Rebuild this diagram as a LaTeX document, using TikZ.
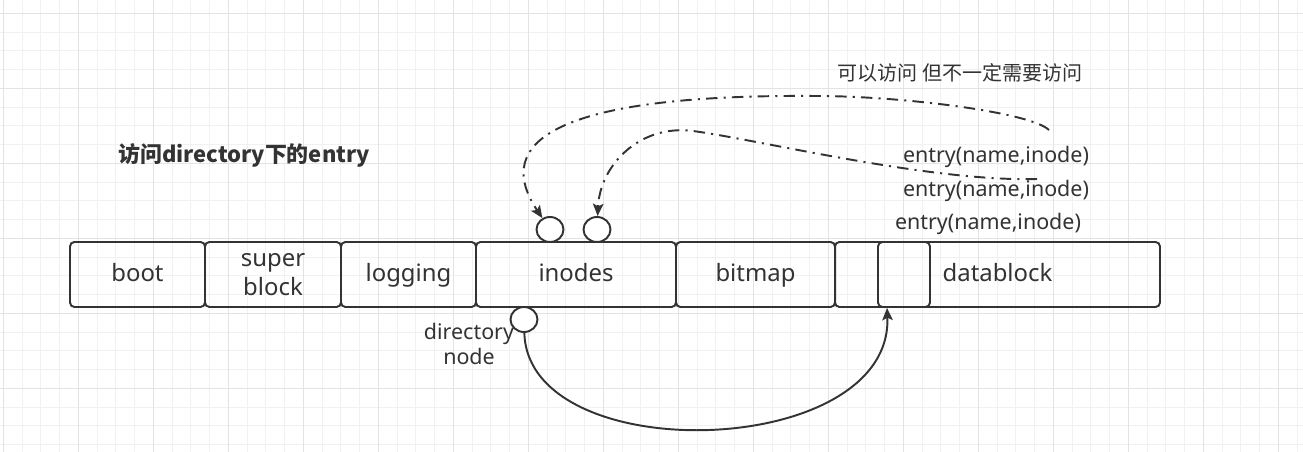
\documentclass[tikz,border=0pt]{standalone}
\usepackage{fontspec}
\setmainfont{Noto Sans}
\newfontfamily\cjk{Noto Sans CJK SC}
\usetikzlibrary{shapes.geometric,arrows.meta}
\definecolor{ink}{HTML}{333333}
\definecolor{gridminor}{HTML}{F1F1F1}
\definecolor{gridmajor}{HTML}{E3E3E3}
\tikzset{
  blk/.style={draw=ink, line width=1.1pt, rounded corners=2.5pt, minimum height=1.3cm, inner sep=0pt, text=ink, font=\fontsize{13.6}{16.5}\selectfont, align=center, text height=0.85em, text depth=0pt},
  port/.style={ellipse, draw=ink, line width=1.1pt, fill=white, minimum width=0.54cm, minimum height=0.5cm, inner sep=0pt},
  lbl/.style={text=ink, font=\fontsize{12.2}{13.7}\selectfont, inner sep=0pt, align=center},
  link/.style={draw=ink, line width=1.1pt, -{Stealth[length=7pt,width=6pt,inset=1.5pt]}},
  maybe/.style={link, dash pattern=on 6.5pt off 3.5pt on 1.2pt off 3.5pt},
}

\begin{document}
\begin{tikzpicture}[x=0.02cm,y=-0.02cm]
\useasboundingbox (0,0) rectangle (1303,452);
\fill[white] (0,0) rectangle (1303,452);
\foreach \i in {0,...,69} \draw[gridminor, line width=0.6pt] ({3.3+18.75*\i},0) -- ({3.3+18.75*\i},452);
\foreach \j in {0,...,23} \draw[gridminor, line width=0.6pt] (0,{13.3+18.75*\j}) -- (1303,{13.3+18.75*\j});
\foreach \i in {0,...,17} \draw[gridmajor, line width=0.6pt] ({3.3+75*\i},0) -- ({3.3+75*\i},452);
\foreach \j in {0,...,5} \draw[gridmajor, line width=0.6pt] (0,{13.3+75*\j}) -- (1303,{13.3+75*\j});

\node[blk, minimum width=2.7cm] (boot) at (137.5,274.5) {boot};
\node[blk, minimum width=2.72cm, text height=, text depth=] (super) at (273,274.5) {super\\block};
\node[blk, minimum width=2.7cm] (logging) at (408.5,274.5) {logging};
\node[blk, minimum width=4cm] (inodes) at (576,274.5) {inodes};
\node[blk, minimum width=3.18cm] (bitmap) at (755.5,274.5) {bitmap};
\node[blk, minimum width=6.5cm] (data) at (997.5,274.5) {datablock};
\node[blk, minimum width=1.04cm] (entryblk) at (904,274.5) {};

\node[port] (ent1) at (550,229.5) {};
\node[port] (ent2) at (597,229.5) {};
\node[port] (dirnode) at (524,319.5) {};

\node[lbl, font=\cjk\fontsize{11.4}{13}\selectfont] (hint) at (960,73) {可以访问 但不一定需要访问};
\node[lbl] (e1) at (996,157) {entry(name,inode)};
\node[lbl] (e2) at (996,190.5) {entry(name,inode)};
\node[lbl] (e3) at (988,223.5) {entry(name,inode)};
\node[lbl, font=\cjk\bfseries\fontsize{12.5}{14}\selectfont] (title) at (244,155) {访问directory下的entry};
\node[lbl] (dirlbl) at (469,344) {directory\\node};

\coordinate (from1) at (1049,130);
\coordinate (from2) at (1037,179);
\draw[maybe] (from1) .. controls (1030,112) and (900,96) .. (816,96) .. controls (560,94) and (490,140) .. (ent1);
\draw[maybe] (from2) .. controls (930,182) and (760,140) .. (693,131) .. controls (640,124) and (600,165) .. (ent2);
\draw[link] (dirnode) .. controls (528,470) and (893,460) .. ([xshift=0.2cm]entryblk.south west);
\end{tikzpicture}
\end{document}
